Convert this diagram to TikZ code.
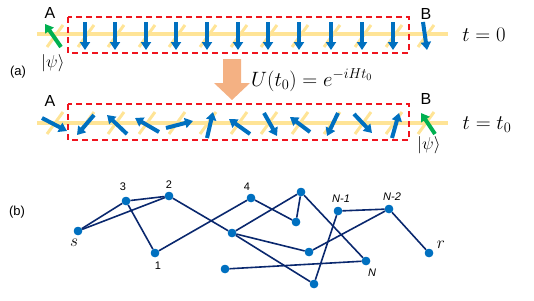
\documentclass[tikz,border=0pt]{standalone}
\usepackage{fontspec}
\setsansfont{Liberation Sans}
\usetikzlibrary{arrows.meta}
\definecolor{spinblue}{RGB}{0,112,192}
\definecolor{spingreen}{RGB}{0,176,80}
\definecolor{chainyellow}{RGB}{255,228,150}
\definecolor{uorange}{RGB}{244,177,131}
\definecolor{edgeblue}{RGB}{10,40,110}
\definecolor{boxred}{RGB}{240,20,30}
\begin{document}
\begin{tikzpicture}[x=1pt,y=-1pt,
  chain/.style={draw=chainyellow,line width=4pt},
  tick/.style={draw=chainyellow,line width=3pt},
  spin/.style={draw=spinblue,line width=4pt,-{Triangle[width=10pt,length=8pt]}},
  gspin/.style={spin,draw=spingreen},
  redbox/.style={draw=boxred,line width=1.2pt,dash pattern=on 6pt off 4pt},
  lab/.style={font=\sffamily\fontsize{16}{18}\selectfont,inner sep=0pt},
  plab/.style={font=\sffamily\fontsize{13}{15}\selectfont,inner sep=0pt},
  mlab/.style={font=\fontsize{19}{22}\selectfont,inner sep=0pt},
  gnode/.style={circle,fill=spinblue,minimum size=8.5pt,inner sep=0pt},
  gedge/.style={draw=edgeblue,line width=1.6pt},
  glab/.style={font=\sffamily\fontsize{11}{13}\selectfont,inner sep=0pt},
  gilab/.style={font=\sffamily\itshape\fontsize{11}{13}\selectfont,inner sep=0pt}]
\useasboundingbox (0,0) rectangle (534,300);
% ---------- (a) chains
\draw[chain] (37,34) -- (448,34);
\draw[chain] (37,123) -- (448,123);
\foreach \x in {54,85,115,146,176,207,238,268,299,331,362,393,425}{
  \draw[tick] (\x-7,47) -- (\x+9,25);
  \draw[tick] (\x-7,134) -- (\x+9,112);
}
% top row spins
\foreach \x in {85,115,146,176,207,238,268,299,331,362,393}{
  \draw[spin] (\x,22) -- (\x,50);
}
\draw[spin] (423,22) -- (427,50);
\draw[gspin] (61,47) -- (45,24);
% bottom row spins
\draw[spin] (42,118) -- (67,131);
\draw[spin] (94,115) -- (77,135);
\draw[spin] (127,134) -- (107,115);
\draw[spin] (159,132) -- (135,118);
\draw[spin] (166,128) -- (193,121);
\draw[spin] (207,138) -- (213,112);
\draw[spin] (250,134) -- (229,119);
\draw[spin] (264,113) -- (277,136);
\draw[spin] (310,132) -- (290,117);
\draw[spin] (338,113) -- (327,136);
\draw[spin] (354,114) -- (372,133);
\draw[spin] (392,138) -- (399,113);
\draw[gspin] (435,134) -- (421,113);
% dashed boxes
\draw[redbox] (68,17) rectangle (409,53);
\draw[redbox] (68,104) rectangle (409,140);
% labels
\node[lab] (A1) at (50,13) {A};
\node[lab] (A2) at (50,101) {A};
\node[lab] (B1) at (426,14) {B};
\node[lab] (B2) at (426,99) {B};
\node[mlab] (psi1) at (53,63) {$|\psi\rangle$};
\node[mlab] (psi2) at (429,145) {$|\psi\rangle$};
\node[plab] (pa) at (18,72) {(a)};
\node[plab] (pb) at (17,212) {(b)};
\node[mlab,font=\fontsize{20}{22}\selectfont] (t0) at (484,35) {$t=0$};
\node[mlab,font=\fontsize{20}{22}\selectfont] (t1) at (487,125) {$t=t_0$};
% orange arrow
\fill[uorange] (223,59) -- (241,59) -- (241,83) -- (250,83) -- (232,100) -- (214,83) -- (223,83) -- cycle;
\node[mlab,font=\fontsize{20}{22}\selectfont,anchor=west] (U) at (251,80) {$U(t_0)=e^{-iHt_0}$};
% ---------- (b) graph
\node[gnode] (s) at (78,231) {};
\node[gnode] (n3) at (126,201) {};
\node[gnode] (n2) at (169,196) {};
\node[gnode] (n1) at (155,253) {};
\node[gnode] (n4) at (251,198) {};
\node[gnode] (m) at (232,233) {};
\node[gnode] (p) at (225,269) {};
\node[gnode] (t) at (301,192) {};
\node[gnode] (u) at (296,222) {};
\node[gnode] (v) at (309,252) {};
\node[gnode] (w) at (314,284) {};
\node[gnode] (N1) at (338,211) {};
\node[gnode] (N2) at (389,209) {};
\node[gnode] (NN) at (366,261) {};
\node[gnode] (r) at (429,253) {};
\foreach \a/\b in {s/n3,s/n2,n3/n2,n3/n1,n2/m,n1/n4,n4/u,m/t,t/u,t/NN,m/v,m/w,p/NN,N1/N2,N1/w,N2/v,N2/r}{
  \draw[gedge] (\a) -- (\b);
}
\foreach \n in {s,n3,n2,n1,n4,m,p,t,u,v,w,N1,N2,NN,r}{
  \fill[spinblue] (\n) circle (4.2pt);
}
\node[glab] (l3) at (123,187) {3};
\node[glab] (l2) at (169,185) {2};
\node[glab] (l1) at (158,266) {1};
\node[glab] (l4) at (247,187) {4};
\node[gilab] (lN1) at (341,199) {N-1};
\node[gilab] (lN2) at (392,197) {N-2};
\node[gilab] (lN) at (372,273) {N};
\node[mlab] (ls) at (74,243) {$s$};
\node[mlab] (lr) at (441,245) {$r$};
\end{tikzpicture}
\end{document}
